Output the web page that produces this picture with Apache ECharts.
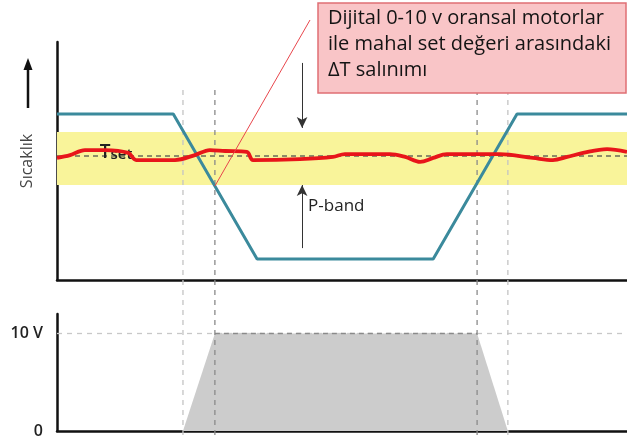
<!DOCTYPE html>
<html><head><meta charset="utf-8">
<script src="https://cdn.jsdelivr.net/npm/echarts@6/dist/echarts.min.js"></script>
<style>html,body{margin:0;padding:0;background:#fff}#c{width:627px;height:439px}</style>
</head><body><div id="c"></div>
<script>
// ---- data (time axis 0..100, temperature 0..100 arbitrary units, voltage in V) ----
const timeRange = [0, 100];
const tempRange = [0, 100];
const voltRange = [0, 12];
const voltTickLabels = { 0: '0', 10: '10 V' };
const blueX = [0, 20.4, 35.1, 66.0, 80.7, 100];
const blueY = [69.7, 69.7, 8.8, 8.8, 69.7, 69.7];
const redX = [0, 2.3, 4.9, 8.4, 12.5, 13.9, 20.7, 24.2, 26.8, 29.5, 33.3, 34.4, 42.6, 48.4, 50.5, 58.4, 61.1, 63.7, 66.0, 68.4, 77.7, 83.5, 87.0, 89.5, 92.3, 96.5, 100];
const redY = [51.3, 52.5, 54.6, 54.6, 53.4, 50.4, 50.4, 52.5, 54.6, 54.2, 53.8, 50.4, 50.8, 51.7, 52.9, 52.9, 51.7, 49.6, 51.3, 52.9, 52.9, 51.3, 50.4, 51.7, 53.4, 55.0, 53.8];
const setpoint = 52.1;
const pBand = [39.9, 62.2];
const pBandArrowX = 43.0;
const pBandArrowFrom = [91.2, 13.4];
const markerTimes = [22.1, 27.7, 73.7, 79.1];
const markerColors = ['#c4c4c4', '#8a8a8a', '#8a8a8a', '#c4c4c4'];
const voltX = [22.1, 27.7, 73.7, 79.1];
const voltY = [0, 10, 10, 0];
const voltMax = 10;
const annotationText = 'Dijital 0-10 v oransal motorlar\nile mahal set değeri arasındaki\nΔT salınımı';
const pointerTime = 27.7;

const zip = (xs, ys) => xs.map((x, i) => [x, ys[i]]);
const FONT = '"Open Sans", sans-serif';

const chart = echarts.init(document.getElementById('c'), null, { renderer: 'canvas' });

const markerSeries = markerTimes.map((t, i) => ({
  type: 'line', xAxisIndex: 2, yAxisIndex: 2, z: 3, symbol: 'none', silent: true,
  data: [[t, 0], [t, 1]],
  lineStyle: { color: markerColors[i], width: 1.3, type: [5, 5] }
}));

chart.setOption({
  animation: false,
  grid: [
    { left: 57, right: 0, top: 42, bottom: 159 },
    { left: 57, right: 0, top: 314, bottom: 4 },
    { left: 57, right: 0, top: 88, bottom: 4 }
  ],
  xAxis: [
    { gridIndex: 0, type: 'value', min: timeRange[0], max: timeRange[1],
      axisLine: { show: true, onZero: false, lineStyle: { color: '#111', width: 2.5 } },
      axisTick: { show: false }, axisLabel: { show: false }, splitLine: { show: false } },
    { gridIndex: 1, type: 'value', min: timeRange[0], max: timeRange[1],
      axisLine: { show: true, onZero: false, lineStyle: { color: '#111', width: 2.5 } },
      axisTick: { show: false }, axisLabel: { show: false }, splitLine: { show: false } },
    { gridIndex: 2, type: 'value', min: timeRange[0], max: timeRange[1], show: false }
  ],
  yAxis: [
    { gridIndex: 0, type: 'value', min: tempRange[0], max: tempRange[1],
      name: 'Sıcaklık', nameLocation: 'middle', nameRotate: 90, nameGap: 22,
      nameTextStyle: { color: '#444', fontSize: 16, fontFamily: FONT },
      axisLine: { show: true, lineStyle: { color: '#111', width: 2.5 } },
      axisTick: { show: false }, axisLabel: { show: false }, splitLine: { show: false } },
    { gridIndex: 1, type: 'value', min: voltRange[0], max: voltRange[1], interval: 10,
      axisLine: { show: true, lineStyle: { color: '#111', width: 2.5 } },
      axisTick: { show: false },
      axisLabel: { margin: 14, color: '#222', fontSize: 16, fontWeight: 600, fontFamily: FONT,
        formatter: v => voltTickLabels[v] || '' },
      splitLine: { show: false } },
    { gridIndex: 2, type: 'value', min: 0, max: 1, show: false }
  ],
  series: [
    { type: 'line', xAxisIndex: 0, yAxisIndex: 0, z: 1, symbol: 'none', data: [],
      markArea: { silent: true, itemStyle: { color: '#f9f49a' }, data: [[{ yAxis: pBand[0] }, { yAxis: pBand[1] }]] },
      markLine: { silent: true, symbol: 'none', label: { show: false },
        lineStyle: { color: '#6a6a5a', width: 1.5, type: [5, 4] }, data: [{ yAxis: setpoint }] } },
    { type: 'line', xAxisIndex: 0, yAxisIndex: 0, z: 4, symbol: 'none', data: [],
      markLine: { silent: true, symbol: ['none', 'arrow'], symbolSize: [8, 11], label: { show: false },
        lineStyle: { color: '#333', width: 1, type: 'solid' },
        data: [
          [{ coord: [pBandArrowX, pBandArrowFrom[0]] }, { coord: [pBandArrowX, pBand[1] + 1.7] }],
          [{ coord: [pBandArrowX, pBandArrowFrom[1]] }, { coord: [pBandArrowX, pBand[0]] }]
        ] } },
    { name: 'blue', type: 'line', xAxisIndex: 0, yAxisIndex: 0, z: 5, symbol: 'none',
      data: zip(blueX, blueY), lineStyle: { color: '#3b8a9c', width: 3 } },
    { name: 'red', type: 'line', xAxisIndex: 0, yAxisIndex: 0, z: 6, symbol: 'none', smooth: 0.35,
      data: zip(redX, redY), lineStyle: { color: '#e8151a', width: 3.8 } },
    { name: 'volt', type: 'line', xAxisIndex: 1, yAxisIndex: 1, z: 2, symbol: 'none',
      data: zip(voltX, voltY), lineStyle: { width: 0, opacity: 0 },
      areaStyle: { color: '#cccccc', opacity: 1 },
      markLine: { silent: true, symbol: 'none', label: { show: false }, z: 1,
        lineStyle: { color: '#c8c8c8', width: 1.3, type: [5, 5] }, data: [{ yAxis: voltMax }] } },
    { type: 'line', xAxisIndex: 1, yAxisIndex: 1, z: 3, symbol: 'none',
      data: [[voltX[1], voltMax], [voltX[2], voltMax]],
      lineStyle: { color: '#8a8a8a', width: 1.3, type: [5, 4] } },
    ...markerSeries
  ]
});

// annotations
function blueAt(t) {
  for (let i = 0; i < blueX.length - 1; i++) {
    if (t >= blueX[i] && t <= blueX[i + 1]) {
      return blueY[i] + (blueY[i + 1] - blueY[i]) * (t - blueX[i]) / (blueX[i + 1] - blueX[i]);
    }
  }
  return blueY[0];
}
const pStart = chart.convertToPixel({ gridIndex: 0 }, [pointerTime, blueAt(pointerTime)]);
const tsetPos = chart.convertToPixel({ gridIndex: 0 }, [7.5, setpoint]);
const pbandPos = chart.convertToPixel({ gridIndex: 0 }, [pBandArrowX, 29]);

chart.setOption({
  graphic: [
    { type: 'line', z: 20, shape: { x1: pStart[0], y1: pStart[1], x2: 310, y2: 20 },
      style: { stroke: '#e8464c', lineWidth: 1 } },
    { type: 'rect', z: 21, shape: { x: 318, y: 3, width: 308, height: 90 },
      style: { fill: '#f9c5c7', stroke: '#df6f74', lineWidth: 1.5 } },
    { type: 'text', z: 22, left: 328, top: 5,
      style: { text: annotationText, font: '20px ' + FONT, fill: '#141414', lineHeight: 26 } },
    { type: 'text', z: 22, left: pbandPos[0] + 6, top: pbandPos[1] - 13,
      style: { text: 'P-band', font: '17px ' + FONT, fill: '#222' } },
    { type: 'text', z: 5, left: tsetPos[0], top: tsetPos[1] - 13,
      style: { text: '{t|T}{s|set}', fill: '#222',
        rich: { t: { fontSize: 19, fontWeight: 600, fontFamily: FONT, color: '#222' },
                s: { fontSize: 15, fontWeight: 600, fontFamily: FONT, color: '#222', padding: [5, 0, 0, 0] } } } },
    { type: 'line', z: 20, shape: { x1: 28, y1: 108, x2: 28, y2: 68 },
      style: { stroke: '#111', lineWidth: 2.5 } },
    { type: 'polygon', z: 20, shape: { points: [[28, 58], [23.5, 70], [32.5, 70]] },
      style: { fill: '#111' } }
  ]
});
</script>
</body></html>
